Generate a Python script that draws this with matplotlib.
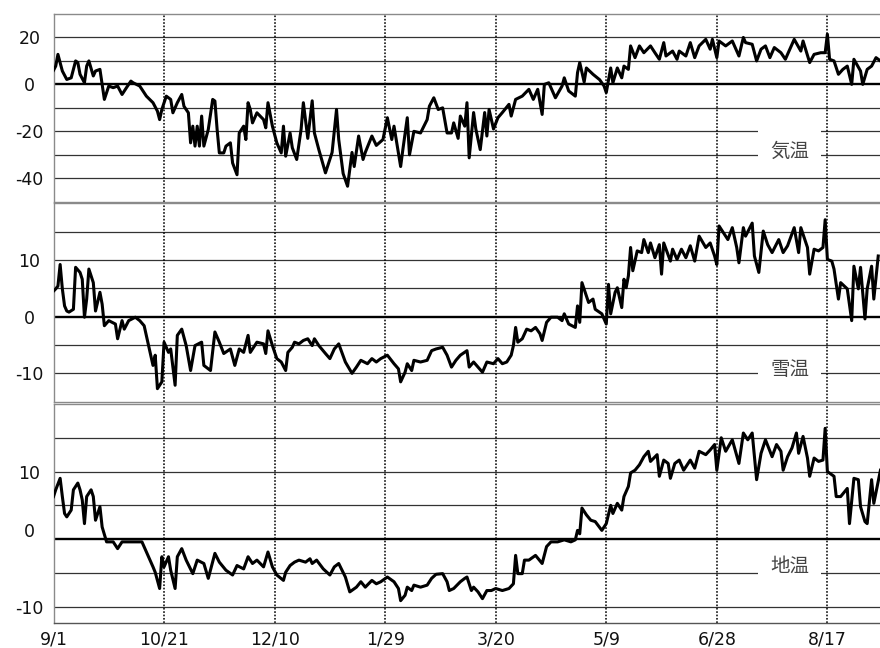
import matplotlib
matplotlib.use('Agg')
import matplotlib.pyplot as plt
from matplotlib.transforms import ScaledTranslation

plt.rcParams['font.family'] = ['DejaVu Sans', 'Noto Sans CJK JP']

# days counted from 9/1, daily temperatures (deg C)
air_days = [0, 1, 2, 4, 6, 8, 10, 11, 12, 14,
            15, 16, 18, 19, 21, 23, 25, 27, 29, 31,
            33, 35, 36, 39, 42, 45, 47, 48, 49, 51,
            53, 54, 56, 58, 59, 61, 62, 63, 64, 65,
            66, 67, 68, 70, 72, 73, 74, 75, 77, 78,
            80, 81, 83, 84, 86, 87, 88, 89, 90, 92,
            95, 96, 97, 99, 101, 103, 104, 105, 107, 108,
            110, 112, 113, 115, 117, 118, 120, 123, 126, 128,
            129, 131, 133, 135, 136, 138, 140, 141, 144, 146,
            149, 151, 153, 154, 157, 158, 160, 161, 163, 166,
            169, 170, 172, 174, 176, 178, 180, 181, 183, 184,
            186, 187, 188, 190, 191, 193, 195, 196, 197, 199,
            201, 203, 206, 207, 209, 212, 215, 217, 219, 221,
            222, 224, 227, 230, 231, 233, 236, 237, 238, 240,
            241, 244, 247, 249, 250, 252, 253, 255, 257, 258,
            260, 261, 263, 265, 267, 270, 272, 274, 276, 277,
            280, 282, 283, 286, 288, 290, 292, 295, 297, 298,
            300, 301, 304, 307, 310, 312, 313, 316, 318, 320,
            322, 324, 326, 329, 331, 333, 335, 338, 339, 342,
            344, 347, 349, 350, 351, 353, 355, 357, 359, 361,
            362, 365, 366, 368, 370, 372, 374]
air_temp = [6, 7.8, 12.8, 5.7, 2.1, 2.8, 10, 9.3, 4.3, 0.7,
            7.8, 10, 3.6, 5.7, 6.4, -6.4, -0.7, -1.4, -0.7, -4.3,
            -1.4, 1.4, 0.7, -0.7, -5, -7.8, -11.4, -15, -10.7, -5,
            -6.4, -12.1, -7.8, -4.3, -9.3, -12.1, -24.9, -17.8, -26.3, -17.8,
            -26.3, -13.5, -26.3, -19.2, -6.4, -7.1, -19.2, -29.2, -29.2, -26.3,
            -24.9, -33.5, -38.5, -20.7, -17.8, -23.5, -7.8, -10.7, -16.4, -12.1,
            -15, -18.5, -7.8, -17.8, -24.9, -29.2, -17.8, -30.6, -20.7, -27,
            -32, -19, -7.8, -23, -7, -20.7, -27.8, -37.7, -29, -10.7,
            -23.5, -38, -43.4, -29, -35, -22, -32, -29, -22, -26,
            -23.5, -14.2, -23.5, -17.8, -35, -27.8, -14.2, -30, -20, -20.7,
            -15, -9.3, -5.7, -10.7, -10, -20.7, -20.7, -16.4, -23, -13.5,
            -17.8, -7.8, -31.3, -12, -19, -27.8, -12, -22, -10.7, -19,
            -14.2, -12, -8.5, -13.5, -6.4, -5, -2.1, -6.4, -2.1, -12.8,
            0, 0.7, -5.7, -0.7, 2.8, -2.8, -5, 5, 9.3, 1,
            7, 4.3, 2, -0.7, -3.5, 7, 0.7, 7, 2.8, 7.8,
            6.4, 16.4, 11.4, 16.4, 13.5, 16.4, 13.5, 10.7, 17.8, 12.1,
            14.2, 10.7, 14.2, 12.1, 17.8, 11.4, 16.4, 19.2, 15, 19.2,
            11.4, 18.5, 16.4, 18.5, 12.1, 20, 17.8, 17.1, 10, 15,
            16.4, 11.4, 15.7, 13.5, 10.7, 15, 19.2, 14.2, 18.5, 9.3,
            12.8, 13.5, 13.5, 21.4, 10.7, 10, 4.3, 6.4, 7.8, 0,
            10.7, 5.7, 0, 6.4, 7.8, 11.4, 10]

snow_days = [0, 1, 2, 3, 4, 5, 6, 7, 9, 10,
             12, 13, 14, 15, 16, 18, 19, 21, 22, 23,
             25, 28, 29, 31, 32, 34, 37, 39, 41, 43,
             45, 46, 47, 49, 50, 52, 53, 55, 56, 58,
             60, 62, 64, 67, 68, 71, 73, 75, 77, 80,
             82, 84, 86, 88, 89, 92, 95, 96, 97, 99,
             101, 103, 105, 106, 108, 109, 111, 113, 115, 117,
             118, 120, 123, 125, 127, 129, 132, 135, 137, 139,
             142, 144, 146, 148, 151, 154, 156, 157, 159, 160,
             162, 163, 166, 169, 171, 173, 176, 178, 180, 182,
             184, 187, 188, 190, 192, 194, 196, 199, 201, 203,
             205, 207, 208, 209, 210, 212, 214, 216, 218, 220,
             221, 223, 225, 228, 230, 231, 233, 236, 237, 238,
             239, 241, 242, 244, 245, 248, 250, 251, 252, 254,
             255, 257, 258, 259, 260, 261, 262, 264, 266, 267,
             269, 270, 272, 274, 275, 276, 279, 280, 282, 284,
             286, 288, 290, 292, 295, 297, 299, 300, 301, 303,
             305, 307, 309, 310, 312, 313, 316, 317, 319, 321,
             323, 325, 328, 330, 332, 335, 337, 338, 341, 342,
             344, 346, 348, 349, 350, 352, 353, 355, 356, 359,
             361, 362, 364, 365, 367, 368, 370, 371, 373]
snow_temp = [4.5, 4.9, 5.4, 9.2, 4.9, 1.9, 1, 0.8, 1.3, 8.7,
             7.8, 6.6, -0.1, 3.1, 8.4, 6, 1, 4.3, 2.2, -1.6,
             -0.7, -1.3, -3.9, -0.7, -2.2, -0.7, -0.1, -0.7, -1.6, -5.1,
             -8.6, -6.8, -12.7, -11.5, -4.5, -6.3, -5.7, -12.1, -3.3, -2.2,
             -5.1, -9.5, -5.1, -4.5, -8.6, -9.5, -2.7, -4.5, -6.5, -5.7,
             -8.6, -5.7, -6.3, -3.3, -6.3, -4.5, -4.8, -6.5, -2.5, -5.1,
             -7.4, -8, -9.5, -6.3, -5.4, -4.5, -4.8, -4.2, -3.9, -5.1,
             -3.9, -5.1, -6.5, -7.4, -5.7, -4.8, -8, -10, -8.9, -7.7,
             -8.3, -7.4, -8, -7.4, -6.8, -8.3, -9.2, -11.5, -9.8, -8.3,
             -9.5, -7.7, -8, -7.7, -6, -5.7, -5.4, -6.8, -8.9, -7.7,
             -6.8, -6, -8.9, -8, -8.9, -9.8, -8, -8.3, -7.4, -8.3,
             -8, -6.8, -5.1, -1.9, -4.5, -3.9, -2.2, -2.5, -1.9, -3,
             -4.2, -1, -0.1, -0.1, -0.7, 0.5, -1.3, -1.9, 1.9, -1,
             6, 3.7, 2.5, 3.1, 1.3, 0.5, -1.3, 5.7, 0.5, 4.3,
             5.1, 1.6, 6.6, 5.1, 7.2, 12.2, 8.1, 11.6, 11.3, 13.6,
             11.3, 13, 10.4, 12.7, 7.5, 13, 9.8, 11.9, 10.1, 11.9,
             10.4, 12.5, 9.8, 14.2, 12.2, 13, 10.7, 9.2, 16, 14.8,
             13.6, 15.7, 12.2, 9.5, 15.7, 14.2, 16.5, 10.7, 7.8, 15.1,
             12.7, 11.3, 13.6, 11.3, 12.5, 15.7, 11.3, 15.7, 12.2, 7.5,
             11.9, 11.6, 12.2, 17.1, 10.1, 9.8, 8.4, 3.1, 6, 4.9,
             -0.7, 8.9, 4.9, 8.7, -0.4, 4.9, 8.9, 3.1, 10.7]

soil_days = [0, 1, 3, 4, 5, 6, 8, 9, 11, 12,
             13, 14, 15, 17, 18, 19, 21, 22, 24, 27,
             29, 31, 34, 37, 40, 43, 45, 46, 48, 49,
             50, 52, 53, 55, 56, 58, 60, 63, 65, 68,
             70, 73, 75, 78, 81, 83, 86, 88, 90, 92,
             95, 97, 99, 101, 104, 105, 107, 109, 111, 114,
             116, 117, 119, 122, 125, 127, 129, 132, 134, 137,
             139, 141, 144, 146, 148, 151, 154, 156, 157, 159,
             160, 162, 163, 166, 169, 171, 173, 176, 178, 179,
             181, 184, 186, 187, 189, 190, 192, 194, 196, 198,
             200, 203, 206, 208, 209, 210, 212, 213, 215, 218,
             221, 223, 225, 228, 231, 234, 236, 237, 238, 239,
             241, 243, 245, 248, 250, 252, 253, 255, 257, 258,
             260, 261, 263, 265, 267, 269, 270, 273, 274, 276,
             278, 279, 281, 283, 285, 288, 290, 292, 295, 297,
             299, 300, 302, 304, 307, 310, 312, 314, 316, 318,
             320, 322, 325, 327, 329, 330, 332, 334, 336, 337,
             339, 341, 342, 344, 346, 348, 349, 350, 353, 354,
             356, 359, 360, 362, 364, 365, 367, 368, 370, 371,
             374]
soil_temp = [6.3, 7.3, 9, 6.3, 3.8, 3.3, 4.3, 7.3, 8.3, 7.3,
             5.8, 2.3, 6.3, 7.3, 6.3, 2.8, 4.8, 1.8, -0.4, -0.4,
             -1.4, -0.4, -0.4, -0.4, -0.4, -2.6, -4.1, -4.9, -7.3, -2.6,
             -4.1, -2.6, -4.6, -7.3, -2.6, -1.4, -3.1, -5.1, -3.1, -3.6,
             -5.8, -2.1, -3.4, -4.6, -5.3, -3.9, -4.4, -2.6, -3.6, -3.1,
             -4.1, -1.9, -4.1, -5.3, -6.1, -4.9, -3.9, -3.4, -3.1, -3.4,
             -2.9, -3.6, -3.1, -4.4, -5.3, -4.1, -3.6, -5.6, -7.8, -7.1,
             -6.3, -7.1, -6.1, -6.6, -6.3, -5.6, -6.3, -7.3, -9.1, -8.3,
             -7.1, -7.6, -6.8, -7.1, -6.8, -5.8, -5.2, -5.1, -6.3, -7.6,
             -7.3, -6.3, -5.8, -5.6, -7.6, -7.1, -7.8, -8.8, -7.6, -7.6,
             -7.3, -7.6, -7.3, -6.6, -2.4, -5.1, -5.1, -3.1, -3.1, -2.4,
             -3.6, -1.1, -0.4, -0.4, -0.1, -0.4, -0.1, 1.3, 0.8, 4.6,
             3.6, 2.8, 2.6, 1.3, 2.3, 5, 3.8, 5.3, 4.3, 6.3,
             7.8, 9.8, 10.2, 11, 12.2, 13, 11.5, 12.5, 9.3, 11.7,
             11.2, 9, 11.2, 11.7, 10.2, 11.7, 10.5, 13, 12.5, 13.2,
             14, 10.2, 15, 13, 14.7, 11.2, 15.7, 14.7, 15.7, 8.8,
             12.7, 14.7, 12.2, 14, 13, 10.2, 12.2, 13.5, 15.7, 12.7,
             15.2, 12, 9.3, 12, 11.5, 11.7, 16.4, 10, 9.3, 6.3,
             6.3, 7.5, 2.3, 9, 8.8, 4.8, 2.6, 2.3, 8.8, 5.3,
             10.2]

date_ticks = [0, 50, 100, 150, 200, 250, 300, 350]
date_labels = ['9/1', '10/21', '12/10', '1/29', '3/20', '5/9', '6/28', '8/17']

# name, x, y, ylim, grid levels, labelled levels, name height, axes rect
panels = [
    ('気温', air_days, air_temp, (-50, 30), [-40, -30, -20, -10, 10, 20],
     [20, 0, -20, -40], -28.6, [0.0608, 0.6887, 0.9392, 0.2897]),
    ('雪温', snow_days, snow_temp, (-15, 20), [-10, -5, 5, 10, 15],
     [10, 0, -10], -9.3, [0.0608, 0.3801, 0.9392, 0.3062]),
    ('地温', soil_days, soil_temp, (-12.4, 20), [-10, -5, 5, 10, 15],
     [10, 0, -10], -4.0, [0.0608, 0.0386, 0.9392, 0.3380]),
]

fig = plt.figure(figsize=(8.8, 6.48), dpi=100)

for i, (name, xs, ys, ylim, grid_levels, labelled, name_y, rect) in enumerate(panels):
    ax = fig.add_axes(rect)
    ax.set_xlim(0, 373.8)
    ax.set_ylim(*ylim)

    for g in grid_levels:
        ax.axhline(g, color='#333333', lw=0.9, zorder=1)
    ax.axhline(0, color='black', lw=1.7, zorder=1)
    for t in date_ticks[1:]:
        ax.axvline(t, color='black', lw=1.1, ls=(0, (1.1, 1.1)), zorder=1)

    ax.plot(xs, ys, color='black', lw=2.2, solid_joinstyle='round', zorder=3)

    ax.text(333, name_y, name, ha='center', va='center', fontsize=14,
            color='#444444', family=['Noto Sans CJK JP', 'DejaVu Sans'],
            bbox=dict(facecolor='white', edgecolor='none', pad=8.5), zorder=4)

    ax.spines['right'].set_visible(False)
    for side in ['top', 'bottom', 'left']:
        ax.spines[side].set_color('#8a8a8a')
        ax.spines[side].set_linewidth(1.0)

    ax.set_yticks(labelled)
    ax.set_yticklabels([str(v) for v in labelled])
    ax.tick_params(axis='y', length=0, pad=17.3, labelsize=12.5, labelcolor='#111111')
    for lab in ax.get_yticklabels():
        lab.set_horizontalalignment('center')
        if i == 2 and lab.get_text() == '0':
            lab.set_transform(lab.get_transform() + ScaledTranslation(0, 0.09, fig.dpi_scale_trans))

    ax.set_xticks(date_ticks)
    if i == 2:
        ax.set_xticklabels(date_labels)
        ax.tick_params(axis='x', length=0, pad=5.5, labelsize=12.5, labelcolor='#111111')
        ax.spines['bottom'].set_color('#555555')
    else:
        ax.tick_params(axis='x', length=0, labelbottom=False)

fig.savefig('out.png', dpi=100)
